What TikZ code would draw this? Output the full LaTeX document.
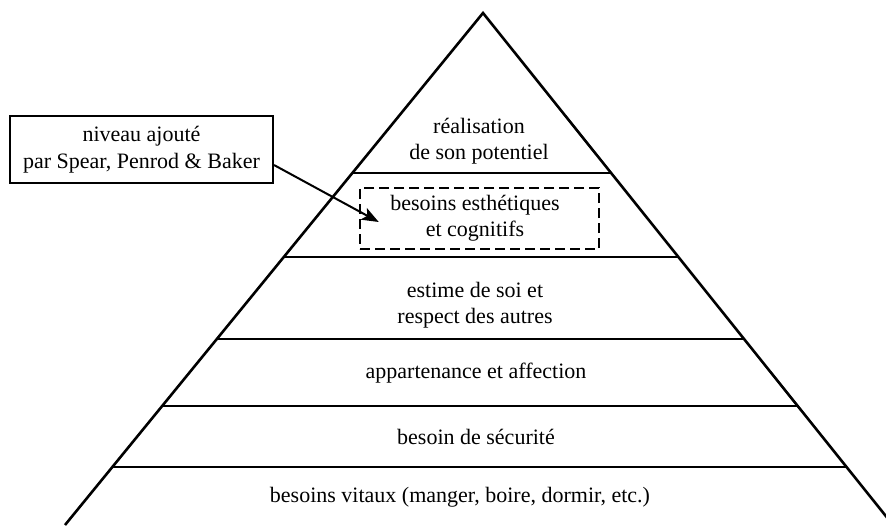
\documentclass[tikz,border=0pt]{standalone}
\usepackage{fontspec}
\setmainfont{Liberation Serif}
\usetikzlibrary{arrows.meta,calc}
\begin{document}
\begin{tikzpicture}[x=1pt,y=-1pt,
  edge/.style={line width=2.6pt},
  layer/.style={line width=2pt},
  lbl/.style={align=center,font=\fontsize{22}{26}\selectfont,inner sep=0pt},
  notebox/.style={draw,line width=2pt,minimum width=263pt,minimum height=67pt,align=center,font=\fontsize{22}{27}\selectfont,inner sep=0pt},
  addedbox/.style={draw,line width=2.5pt,dash pattern=on 10pt off 5pt,minimum width=239pt,minimum height=61pt,align=center,font=\fontsize{22}{26}\selectfont,inner sep=0pt},
  pointer/.style={line width=2pt,-{Stealth[length=17pt,width=13pt,inset=4pt]}}]
\useasboundingbox (0,0) rectangle (886,525);
\fill[white] (0,0) rectangle (886,525);
\begin{scope}
\clip (0,0) rectangle (886,525);
\coordinate (A) at (483,13);
\coordinate (BL) at (65,525);
\coordinate (BR) at (893,525);
\draw[edge,line join=miter] (BL) -- (A) -- (BR);
\foreach \t in {0.3125,0.4766,0.6367,0.7676,0.8867}
  \draw[layer] ($(A)!\t!(BL)$) -- ($(A)!\t!(BR)$);
\end{scope}
\node[lbl] (l6) at (479,141) {réalisation\\de son potentiel};
\node[addedbox] (added) at (479.5,218.5) {\hspace*{-9pt}besoins esthétiques\\\hspace*{-9pt}et cognitifs};
\node[lbl] (l4) at (475,305) {estime de soi et\\respect des autres};
\node[lbl] (l3) at (476,373) {appartenance et affection};
\node[lbl] (l2) at (476,437) {besoin de sécurité};
\node[lbl] (l1) at (460,497) {besoins vitaux (manger, boire, dormir, etc.)};
\node[notebox] (note) at (141.5,149.5) {niveau ajouté\\par Spear, Penrod \& Baker};
\draw[pointer] ($(note.east)+(0,15.5)$) -- ($(added.west)+(20,3.5)$);
\end{tikzpicture}
\end{document}
